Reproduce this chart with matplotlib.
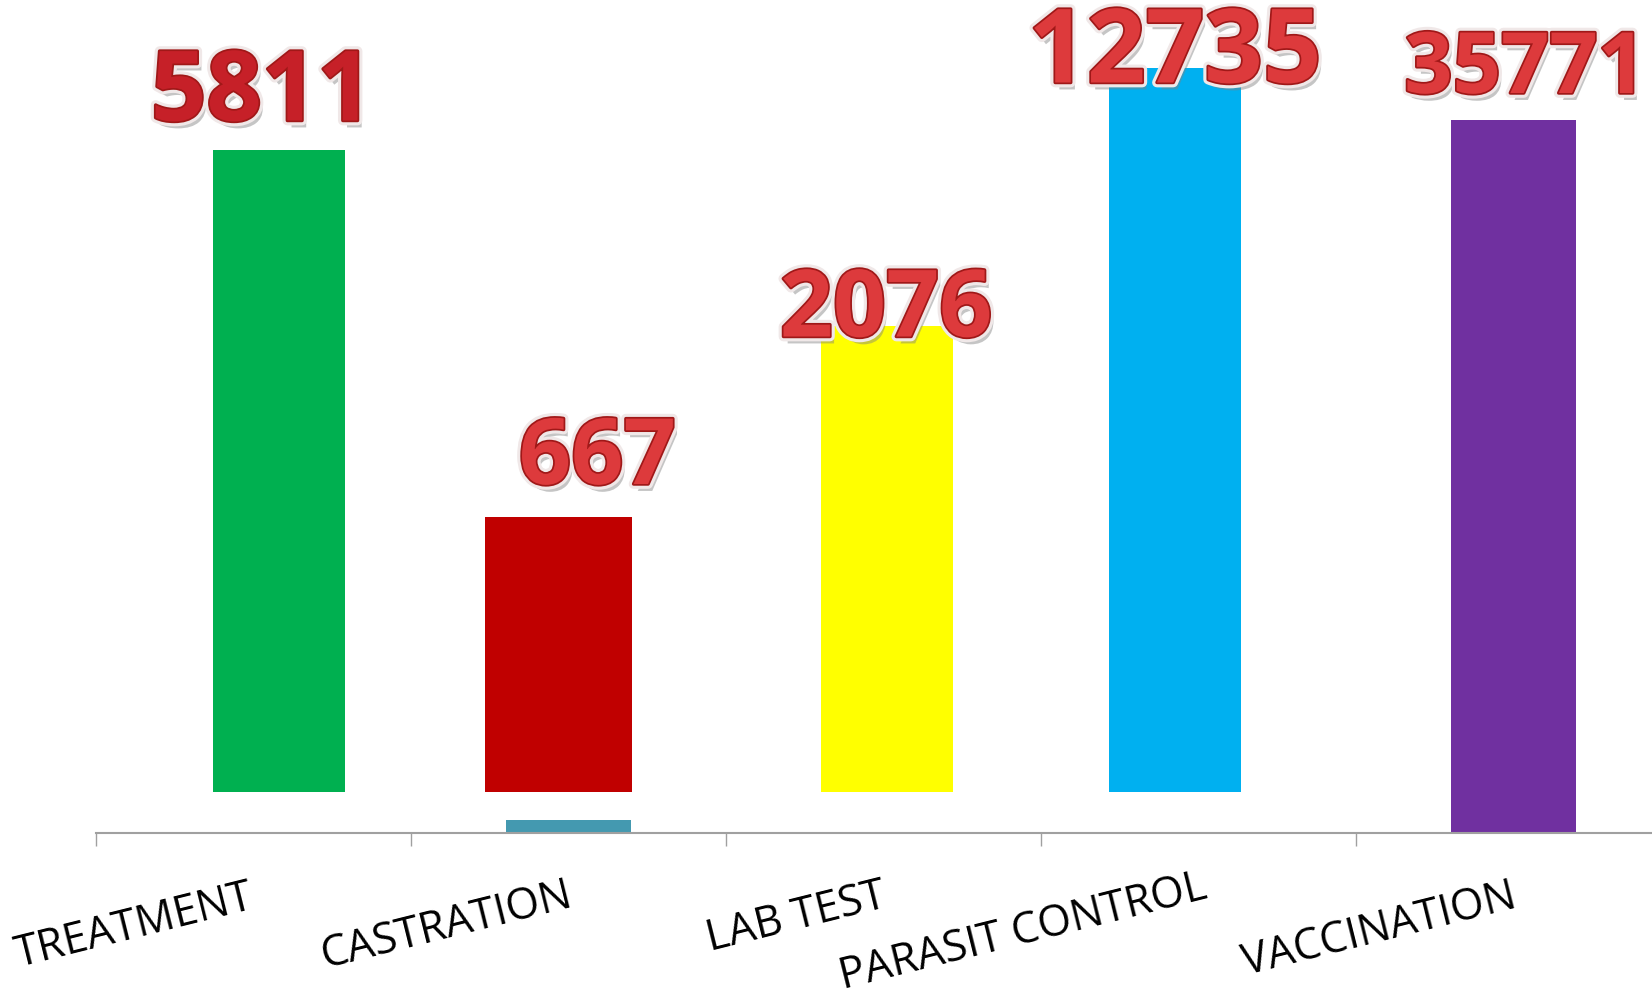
import matplotlib
matplotlib.use("Agg")
import matplotlib.pyplot as plt
import matplotlib.patheffects as pe

# data (bar heights are the drawn heights, not the counts)
categories = ['TREATMENT', 'CASTRATION', 'LAB TEST', 'PARASIT CONTROL', 'VACCINATION']
counts = [5811, 667, 2076, 12735, 35771]
bar_top = [683, 316, 507, 765, 713]
bar_base = [41, 41, 41, 41, 0]
extra_bar = 13  # small teal bar under CASTRATION
bar_colors = ['#00B050', '#C00000', '#FFFF00', '#00B0F0', '#7030A0']

# layout (category units / pixel units)
bar_shift = [0.080, -0.032, 0.011, -0.075, 0.0]
bar_width = [0.418, 0.468, 0.421, 0.421, 0.398]
num_pos = [(0.027, 738), (1.091, 373), (2.008, 521), (2.925, 777), (4.037, 762)]
num_size = [70, 66, 67, 74, 61]
num_color = ['#C62028', '#DD3A3C', '#DD3A3C', '#DD3A3C', '#DD3A3C']
cat_pos = [(-0.379, -94), (0.614, -93), (1.725, -85), (2.443, -99), (3.573, -97)]

W, H = 1652, 998
fig = plt.figure(figsize=(W / 100, H / 100), dpi=100)
ax = fig.add_axes([96 / W, 165 / H, (W - 96) / W, 833 / H])
ax.set_xlim(-0.5, -0.5 + (W - 96) / 315)
ax.set_ylim(0, 833)

x = [i + s for i, s in enumerate(bar_shift)]
heights = [t - b for t, b in zip(bar_top, bar_base)]
ax.bar(x, heights, bottom=bar_base, width=bar_width, color=bar_colors, zorder=2)
ax.bar([1.0], [extra_bar], width=0.398, color='#4499B0', zorder=2)

for ax_sp in ['top', 'left', 'right']:
    ax.spines[ax_sp].set_visible(False)
ax.spines['bottom'].set_color('#A0A0A0')
ax.spines['bottom'].set_linewidth(1.5)
ax.set_yticks([])
ax.set_xticks([i - 0.5 for i in range(len(categories))])
ax.set_xticklabels([])
ax.tick_params(axis='x', length=9.5, width=1.0, color='#A0A0A0', direction='out')

fx = [pe.SimplePatchShadow(offset=(3, -5), shadow_rgbFace='#808080', alpha=0.45),
      pe.Stroke(linewidth=7, foreground='#F0E8E8'),
      pe.Stroke(linewidth=2.5, foreground='#A01818'),
      pe.Normal()]
for v, (px, py), fs, c in zip(counts, num_pos, num_size, num_color):
    ax.text(px, py, str(v), ha='center', va='center', fontsize=fs, fontweight='bold',
            family='Open Sans', color=c, path_effects=fx, zorder=5, clip_on=False)

for lab, (px, py) in zip(categories, cat_pos):
    ax.text(px, py, lab, ha='center', va='center', rotation=14, rotation_mode='anchor',
            fontsize=31, family='Open Sans', color='black', clip_on=False)

fig.savefig('out.png', dpi=100)
